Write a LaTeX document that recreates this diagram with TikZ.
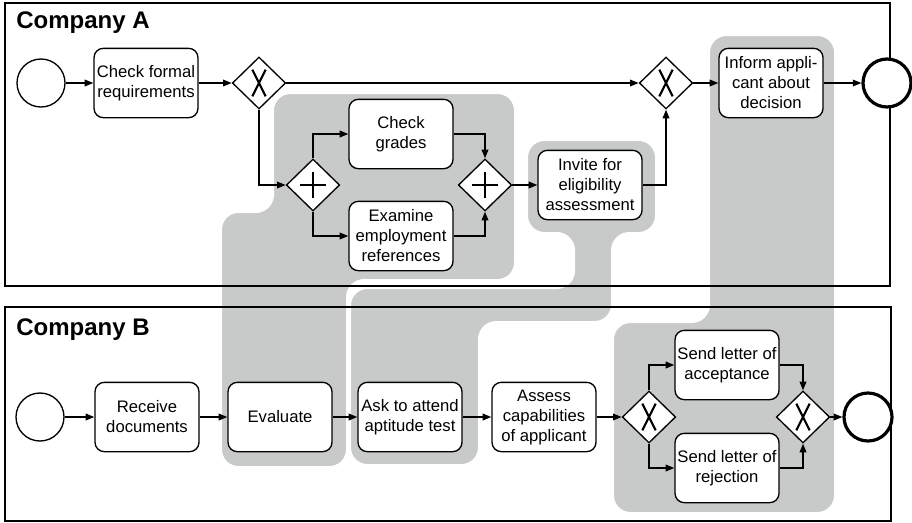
\documentclass[tikz,border=0pt]{standalone}
\usepackage{fontspec}
\setmainfont{Liberation Sans}
\usetikzlibrary{shapes.geometric,arrows.meta}
\definecolor{shade}{RGB}{200,201,201}
\tikzset{
  task/.style={draw, rounded corners=7pt, fill=white, line width=1pt, minimum width=78pt, minimum height=52pt, inner sep=1pt, align=center, font=\fontsize{12.5}{15}\selectfont},
  event/.style={draw, circle, fill=white, line width=1pt, minimum size=36pt, inner sep=0pt},
  endevent/.style={event, line width=2.4pt},
  gate/.style={draw, diamond, fill=white, line width=1pt, minimum width=40pt, minimum height=39pt, inner sep=0pt},
  xgate/.style={gate, path picture={
      \draw[line width=1.6pt] ([shift={(-5pt,-10pt)}]path picture bounding box.center) -- ([shift={(5pt,10pt)}]path picture bounding box.center)
        ([shift={(-5pt,10pt)}]path picture bounding box.center) -- ([shift={(5pt,-10pt)}]path picture bounding box.center);}},
  pgate/.style={gate, path picture={
      \draw[line width=2.2pt] ([xshift=-9.5pt]path picture bounding box.center) -- ([xshift=9.5pt]path picture bounding box.center)
        ([yshift=-9.5pt]path picture bounding box.center) -- ([yshift=9.5pt]path picture bounding box.center);}},
  flow/.style={-{Triangle[length=6.5pt,width=5pt]}, line width=1pt},
  lane/.style={draw, line width=1.4pt},
  lanetitle/.style={anchor=base west, inner sep=0pt, font=\bfseries\fontsize{18}{21}\selectfont},
  group/.style={fill=shade, draw=white, line width=1.5pt, rounded corners=13pt},
}
\begin{document}
\begin{tikzpicture}[x=0.75pt,y=-0.75pt]
    \useasboundingbox (0,0) rectangle (912,522);

    % gray groups
    \draw[group] (273,93) -- (515,93) -- (515,280) -- (347,280) -- (347,467) -- (221,467) -- (221,212) -- (273,212) -- cycle;
    \draw[group] (350,288) -- (574,288) -- (574,233) -- (527,233) -- (527,140) -- (656,140) -- (656,233) -- (612,233) -- (612,322) -- (479,322) -- (479,465) -- (350,465) -- cycle;
    \draw[group] (709,35) -- (835,35) -- (835,513) -- (613,513) -- (613,322) -- (709,322) -- cycle;

    % lanes
    \draw[lane] (5,3) rectangle (890,286);
    \draw[lane] (5,307) rectangle (891,521);
    \node[lanetitle] (titleA) at (16,28) {Company A};
    \node[lanetitle] (titleB) at (16,335) {Company B};

    % Company A
    \node[event] (sa) at (41,83) {};
    \node[task] (cf) at (146,83) {Check formal\\requirements};
    \node[xgate] (xs) at (259,83) {};
    \node[pgate] (ps) at (313,185) {};
    \node[task] (cg) at (401,134) {Check\\grades};
    \node[task] (ee) at (401,236) {Examine\\employment\\references};
    \node[pgate] (pj) at (485,185) {};
    \node[task] (ie) at (590,185) {Invite for\\eligibility\\assessment};
    \node[xgate] (xj) at (666,83) {};
    \node[task] (ia) at (771,83) {Inform appli-\\cant about\\decision};
    \node[endevent] (ea) at (887,83) {};

    \draw[flow] (sa) -- (cf);
    \draw[flow] (cf) -- (xs);
    \draw[flow] (xs) -- (xj);
    \draw[flow] (xs) |- (ps);
    \draw[flow] (ps) |- (cg);
    \draw[flow] (ps) |- (ee);
    \draw[flow] (cg) -| (pj);
    \draw[flow] (ee) -| (pj);
    \draw[flow] (pj) -- (ie);
    \draw[flow] (ie) -| (xj);
    \draw[flow] (xj) -- (ia);
    \draw[flow] (ia) -- (ea);

    % Company B
    \node[event] (sb) at (40,417) {};
    \node[task] (rd) at (147,417) {Receive\\documents};
    \node[task] (ev) at (280,417) {Evaluate};
    \node[task] (at) at (410,417) {Ask to attend\\aptitude test};
    \node[task] (ac) at (544,417) {Assess\\capabilities\\of applicant};
    \node[xgate] (xb) at (649,417) {};
    \node[task] (sl) at (727,365) {Send letter of\\acceptance};
    \node[task] (rl) at (727,468) {Send letter of\\rejection};
    \node[xgate] (xm) at (803,417) {};
    \node[endevent] (eb) at (868,417) {};

    \draw[flow] (sb) -- (rd);
    \draw[flow] (rd) -- (ev);
    \draw[flow] (ev) -- (at);
    \draw[flow] (at) -- (ac);
    \draw[flow] (ac) -- (xb);
    \draw[flow] (xb) |- (sl);
    \draw[flow] (xb) |- (rl);
    \draw[flow] (sl) -| (xm);
    \draw[flow] (rl) -| (xm);
    \draw[flow] (xm) -- (eb);
\end{tikzpicture}
\end{document}
